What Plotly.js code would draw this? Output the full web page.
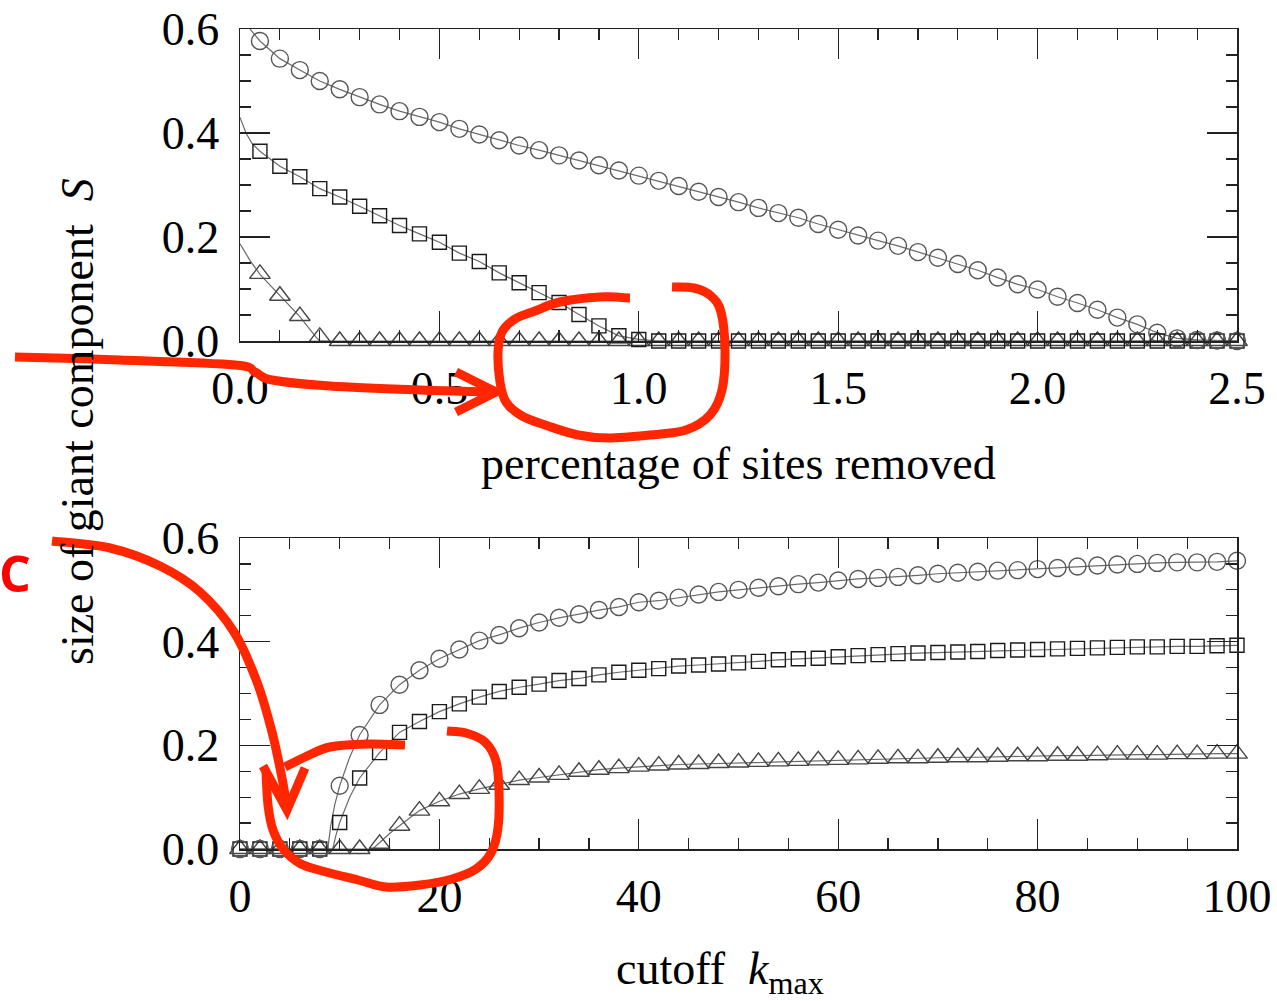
<!DOCTYPE html>
<html><head><meta charset="utf-8">
<script src="https://cdn.plot.ly/plotly-3.0.1.min.js"></script>
<style>html,body{margin:0;padding:0;background:#fff}</style>
</head><body><div id="chart" style="width:1277px;height:1001px"></div>
<script>
// ---------- data ----------
const xTop = [0.05,0.10,0.15,0.20,0.25,0.30,0.35,0.40,0.45,0.50,0.55,0.60,0.65,0.70,0.75,0.80,0.85,0.90,0.95,1.00,
  1.05,1.10,1.15,1.20,1.25,1.30,1.35,1.40,1.45,1.50,1.55,1.60,1.65,1.70,1.75,1.80,1.85,1.90,1.95,2.00,
  2.05,2.10,2.15,2.20,2.25,2.30,2.35,2.40,2.45,2.50];
const topCircles = [0.577,0.543,0.521,0.500,0.484,0.469,0.455,0.442,0.431,0.421,0.408,0.397,0.386,0.376,0.367,0.357,0.347,0.338,0.328,0.318,
  0.308,0.298,0.287,0.277,0.267,0.256,0.246,0.237,0.225,0.214,0.203,0.193,0.183,0.171,0.160,0.148,0.136,0.122,0.109,0.099,
  0.085,0.073,0.060,0.045,0.032,0.016,0.005,0.002,0.001,0.000];
const topSquares = [0.365,0.336,0.316,0.293,0.277,0.259,0.241,0.222,0.206,0.190,0.169,0.153,0.131,0.112,0.093,0.074,0.051,0.029,0.010,0.003,
  0,0,0,0,0,0,0,0,0,0,0,0,0,0,0,0,0,0,0,0,0,0,0,0,0,0,0,0,0,0];
const topTriangles = [0.129,0.087,0.048,0.008,0,0,0,0,0,0,0,0,0,0,0,0,0,0,0,0,
  0,0,0,0,0,0,0,0,0,0,0,0,0,0,0,0,0,0,0,0,0,0,0,0,0,0,0,0,0,0];
// theory curves, top panel (leading parts)
const thTopCircHeadX = [0, 0.025];
const thTopCircHeadY = [0.632, 0.600];
const thTopSqHeadX = [0, 0.015, 0.03];
const thTopSqHeadY = [0.430, 0.400, 0.380];
const thTopTriX = [0, 0.025, 0.05, 0.10, 0.15, 0.19, 0.20, 2.5];
const thTopTriY = [0.187, 0.155, 0.128, 0.087, 0.047, 0.008, 0, 0];

const xBot = [0,2,4,6,8,10,12,14,16,18,20,22,24,26,28,30,32,34,36,38,40,42,44,46,48,50,
  52,54,56,58,60,62,64,66,68,70,72,74,76,78,80,82,84,86,88,90,92,94,96,98,100];
const botCircles = [0,0,0,0,0,0.122,0.220,0.278,0.317,0.345,0.367,0.385,0.402,0.413,0.426,0.437,0.446,0.453,0.461,0.467,
  0.476,0.479,0.485,0.491,0.496,0.500,0.504,0.507,0.511,0.514,0.518,0.521,0.523,0.525,0.528,0.531,0.533,0.535,0.537,0.538,
  0.540,0.542,0.545,0.547,0.549,0.550,0.552,0.553,0.553,0.554,0.556];
const botSquares = [0,0,0,0,0,0.051,0.137,0.186,0.225,0.246,0.265,0.280,0.293,0.304,0.312,0.318,0.325,0.329,0.336,0.341,
  0.345,0.348,0.353,0.355,0.357,0.359,0.362,0.365,0.367,0.368,0.371,0.373,0.375,0.377,0.378,0.379,0.380,0.381,0.383,0.384,
  0.385,0.386,0.387,0.388,0.389,0.390,0.390,0.391,0.391,0.392,0.393];
const botTriangles = [0,0,0,0,0,0,0,0.010,0.045,0.074,0.092,0.106,0.116,0.124,0.133,0.138,0.143,0.149,0.153,0.156,
  0.159,0.161,0.163,0.164,0.166,0.167,0.168,0.169,0.170,0.171,0.172,0.173,0.174,0.175,0.175,0.176,0.177,0.177,0.178,0.179,
  0.179,0.180,0.180,0.181,0.182,0.182,0.182,0.183,0.183,0.184,0.184];
// theory curves, bottom panel: onset parts
const thBotCircHeadX = [0, 8.8, 9.1, 9.5, 10, 11, 12];
const thBotCircHeadY = [0, 0, 0.045, 0.085, 0.122, 0.177, 0.220];
const thBotSqHeadX = [0, 9.3, 9.6, 10, 11, 12];
const thBotSqHeadY = [0, 0, 0.025, 0.051, 0.100, 0.137];
const thBotTriHeadX = [0, 13.3, 14, 15, 16];
const thBotTriHeadY = [0, 0, 0.012, 0.030, 0.045];

const topTicks = [0, 0.5, 1.0, 1.5, 2.0, 2.5];
const botTicks = [0, 20, 40, 60, 80, 100];
const yTicks = [0, 0.2, 0.4, 0.6];

// ---------- helpers ----------
const W = 1277, H = 1001;
const px = v => v / W, py = v => 1 - v / H;
function tail(xs, ys, from){ const i = xs.findIndex(v => v >= from); return [xs.slice(i), ys.slice(i)]; }

const serif = 'Liberation Serif';
const lineC = '#6a6a6a';
function theory(x, y, xa, ya){ return {x, y, xaxis: xa, yaxis: ya, mode: 'lines', line: {color: lineC, width: 1.2}, hoverinfo: 'skip'}; }
function pts(x, y, xa, ya, sym, size, col){ return {x, y, xaxis: xa, yaxis: ya, mode: 'markers', cliponaxis: false,
  marker: {symbol: sym, size, color: col, line: {color: col, width: 1.4}}}; }

const [tc1x, tc1y] = tail(xTop, topCircles, 0.05);
const [bc1x, bc1y] = tail(xBot, botCircles, 14);
const [bs1x, bs1y] = tail(xBot, botSquares, 14);
const [bt1x, bt1y] = tail(xBot, botTriangles, 18);

const traces = [
  theory(thTopCircHeadX.concat(tc1x), thTopCircHeadY.concat(tc1y), 'x', 'y'),
  theory(thTopSqHeadX.concat(xTop), thTopSqHeadY.concat(topSquares), 'x', 'y'),
  theory(thTopTriX, thTopTriY, 'x', 'y'),
  pts(xTop, topTriangles, 'x', 'y', 'triangle-up-open', 18, '#444'),
  pts(xTop, topSquares, 'x', 'y', 'square-open', 14, '#1a1a1a'),
  pts(xTop, topCircles, 'x', 'y', 'circle-open', 17, '#555'),
  theory(thBotCircHeadX.concat(bc1x), thBotCircHeadY.concat(bc1y), 'x2', 'y2'),
  theory(thBotSqHeadX.concat(bs1x), thBotSqHeadY.concat(bs1y), 'x2', 'y2'),
  theory(thBotTriHeadX.concat(bt1x), thBotTriHeadY.concat(bt1y), 'x2', 'y2'),
  pts(xBot, botTriangles, 'x2', 'y2', 'triangle-up-open', 18, '#444'),
  pts(xBot, botSquares, 'x2', 'y2', 'square-open', 14, '#1a1a1a'),
  pts(xBot, botCircles, 'x2', 'y2', 'circle-open', 17, '#555')
];

function axis(extra){
  return Object.assign({
    showline: true, linecolor: '#222', linewidth: 1.5, mirror: 'allticks',
    ticks: 'inside', ticklen: 30, tickwidth: 1.3, tickcolor: '#222',
    showgrid: false, zeroline: false, fixedrange: true,
    tickfont: {family: serif, size: 46, color: '#000'}
  }, extra);
}
const minorX1 = {ticks: 'inside', ticklen: 11, tickwidth: 1.2, tickcolor: '#222', dtick: 0.1, showgrid: false};
const minorX2 = {ticks: 'inside', ticklen: 11, tickwidth: 1.2, tickcolor: '#222', dtick: 5, showgrid: false};
const minorY = {ticks: 'inside', ticklen: 11, tickwidth: 1.2, tickcolor: '#222', dtick: 0.05, showgrid: false};

// red hand-drawn marks (pixel positions -> paper)
function smooth(points){
  const p = points.map(a => [px(a[0]), py(a[1])]);
  let d = `M${p[0][0]},${p[0][1]}`;
  for(let i = 0; i < p.length - 1; i++){
    const p0 = p[i-1] || p[i], p1 = p[i], p2 = p[i+1], p3 = p[i+2] || p[i+1];
    const c1 = [p1[0] + (p2[0]-p0[0])/6, p1[1] + (p2[1]-p0[1])/6];
    const c2 = [p2[0] - (p3[0]-p1[0])/6, p2[1] - (p3[1]-p1[1])/6];
    d += ` C${c1[0]},${c1[1]} ${c2[0]},${c2[1]} ${p2[0]},${p2[1]}`;
  }
  return d;
}
function poly(points){ return points.map((a,i)=>(i?'L':'M')+px(a[0])+','+py(a[1])).join(' '); }
const red = '#ff2600';
const redPaths = [
  smooth([[15,357],[120,360],[235,365],[255,372],[272,380],[330,386],[420,390],[494,392]]),
  poly([[456,372],[496,392],[456,412]]),
  smooth([[630,298],[600,297],[560,302],[535,311],[515,319],[502,332],[498,352],[500,382],[506,402],[522,416],[548,426],[578,435],[608,438],[650,435],[686,430],[710,415],[722,390],[725,350],[721,312],[711,296],[694,288],[672,287]]),
  smooth([[52,541],[110,548],[160,566],[200,592],[234,632],[257,682],[272,732],[282,778],[287,808]]),
  poly([[263,766],[287,810],[305,768]]),
  smooth([[405,745],[368,744],[330,747],[305,757],[285,767]]),
  smooth([[266,772],[268,805],[273,830],[284,850],[301,864],[326,872],[358,880],[386,887],[420,885],[452,879],[476,869],[491,853],[498,828],[499,790],[496,761],[485,742],[466,733],[447,731]])
];
const shapes = redPaths.map(d => ({type: 'path', xref: 'paper', yref: 'paper', path: d, line: {color: red, width: 9}, layer: 'above'}));

const layout = {
  width: W, height: H, margin: {l: 0, r: 0, t: 0, b: 0},
  paper_bgcolor: '#fff', plot_bgcolor: '#fff', showlegend: false,
  xaxis: axis({domain: [px(240), px(1237)], range: [0, 2.5], anchor: 'y', tickvals: topTicks, tickformat: '.1f', minor: minorX1, ticklabelstandoff: 6}),
  yaxis: axis({domain: [py(341), py(29)], range: [0, 0.6], anchor: 'x', tickvals: yTicks, tickformat: '.1f', minor: minorY, ticklabelstandoff: 10}),
  xaxis2: axis({domain: [px(240), px(1237)], range: [0, 100], anchor: 'y2', tickvals: botTicks, minor: minorX2, ticklabelstandoff: 6}),
  yaxis2: axis({domain: [py(849), py(538)], range: [0, 0.6], anchor: 'x2', tickvals: yTicks, tickformat: '.1f', minor: minorY, ticklabelstandoff: 10}),
  annotations: [
    {text: 'percentage of sites removed', xref: 'paper', yref: 'paper', x: px(738), y: py(463), xanchor: 'center', yanchor: 'middle', showarrow: false, font: {family: serif, size: 46, color: '#000'}},
    {text: 'cutoff\u00a0\u00a0<i>k</i><sub>max</sub>', xref: 'paper', yref: 'paper', x: px(720), y: py(972), xanchor: 'center', yanchor: 'middle', showarrow: false, font: {family: serif, size: 46, color: '#000'}},
    {text: 'size of giant component\u00a0\u00a0<i>S</i>', textangle: -90, xref: 'paper', yref: 'paper', x: px(78), y: py(422), xanchor: 'center', yanchor: 'middle', showarrow: false, font: {family: serif, size: 46, color: '#000'}},
    {text: 'C', xref: 'paper', yref: 'paper', x: px(15), y: py(573), xanchor: 'center', yanchor: 'middle', showarrow: false, font: {family: 'Open Sans', size: 50, weight: 700, color: '#ff0000'}}
  ],
  shapes
};
Plotly.newPlot('chart', traces, layout, {staticPlot: true, displayModeBar: false});
</script></body></html>
